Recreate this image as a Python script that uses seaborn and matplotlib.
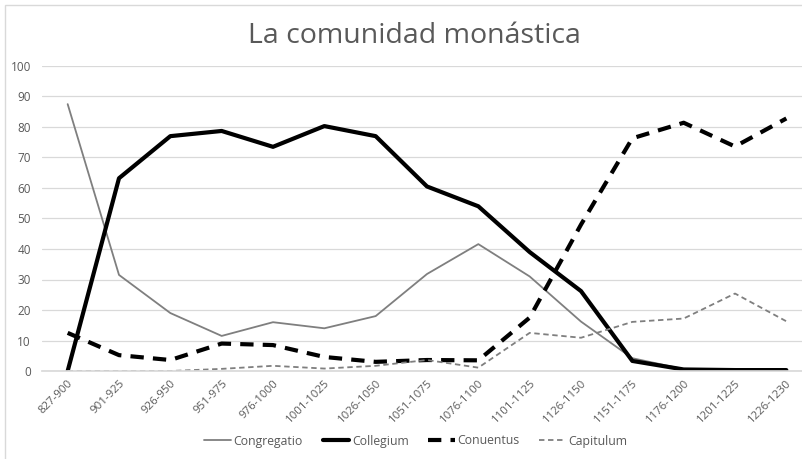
import matplotlib
matplotlib.use("Agg")
import matplotlib.pyplot as plt
import seaborn as sns
import pandas as pd
from matplotlib.lines import Line2D
from matplotlib.patches import Rectangle

periods = ["827-900", "901-925", "926-950", "951-975", "976-1000", "1001-1025",
           "1026-1050", "1051-1075", "1076-1100", "1101-1125", "1126-1150",
           "1151-1175", "1176-1200", "1201-1225", "1226-1230"]
congregatio = [87.5, 31.5, 19.0, 11.5, 16.0, 14.0, 18.0, 31.8, 41.6, 31.0, 16.2, 4.2, 0.6, 0.3, 0.3]
collegium = [0.0, 63.2, 77.0, 78.7, 73.5, 80.3, 77.0, 60.5, 54.0, 39.0, 26.2, 3.3, 0.5, 0.3, 0.3]
conuentus = [12.5, 5.2, 3.6, 9.0, 8.5, 4.6, 3.0, 3.6, 3.5, 17.5, 48.0, 76.3, 81.4, 73.6, 82.8]
capitulum = [0.0, 0.0, 0.0, 0.7, 1.7, 0.8, 1.7, 3.6, 1.1, 12.5, 10.9, 16.1, 17.2, 25.4, 16.3]
y_ticks = list(range(0, 101, 10))

series = {"Congregatio": congregatio, "Collegium": collegium,
          "Conuentus": conuentus, "Capitulum": capitulum}
df = pd.DataFrame({"Periodo": periods * 4,
                   "Serie": sum([[k] * len(periods) for k in series], []),
                   "Valor": sum([list(v) for v in series.values()], [])})

sns.set_theme(style="white")
plt.rcParams['font.family'] = ['Open Sans', 'DejaVu Sans']

fig = plt.figure(figsize=(8.03, 4.59), dpi=100)
ax = fig.add_axes([42 / 803, 1 - 371 / 459, (812 - 42) / 803, (371 - 66) / 459])

styles = {
    "Congregatio": dict(color="#7f7f7f", linewidth=1.3, linestyle="-"),
    "Collegium": dict(color="black", linewidth=3.0, linestyle="-"),
    "Conuentus": dict(color="black", linewidth=3.0, linestyle=(0, (3.2, 2.2))),
    "Capitulum": dict(color="#7f7f7f", linewidth=1.3, linestyle=(0, (3, 2))),
}
for name, st in styles.items():
    sub = df[df["Serie"] == name]
    sns.lineplot(data=sub, x="Periodo", y="Valor", ax=ax, sort=False,
                 color=st["color"], linewidth=st["linewidth"],
                 linestyle=st["linestyle"], legend=False)

ax.set_xlim(-0.5, len(periods) - 0.5)
ax.set_ylim(0, 100)
ax.set_yticks(y_ticks)
ax.yaxis.grid(True, color="#d9d9d9", linewidth=0.9)
ax.set_axisbelow(True)
for s in ["left", "right", "top"]:
    ax.spines[s].set_visible(False)
ax.spines["bottom"].set_color("#d9d9d9")
ax.set_xlabel("")
ax.set_ylabel("")
ax.tick_params(axis="y", colors="#595959", labelsize=8.5, length=0, pad=8)
ax.tick_params(axis="x", colors="#595959", labelsize=8.2, length=0, pad=5)
for lab in ax.get_xticklabels():
    lab.set_rotation(45)
    lab.set_ha("right")
    lab.set_rotation_mode("anchor")

fig.text(414 / 803, 1 - 36 / 459, "La comunidad monástica", ha="center", va="center",
         fontsize=20.5, color="#595959")

handles = [Line2D([0], [0], **styles[n]) for n in series]
fig.legend(handles, list(series.keys()), loc="center", bbox_to_anchor=(416 / 803, 1 - 441 / 459),
           ncol=4, frameon=False, fontsize=8.8, labelcolor="#595959", handlelength=2.2,
           handletextpad=0.2, columnspacing=1.6)

fig.add_artist(Rectangle((5 / 803, -0.1), 1.2, (459 - 5) / 459 + 0.1, transform=fig.transFigure,
                         fill=False, edgecolor="#d9d9d9", linewidth=1.0))

fig.savefig("out.png", dpi=100)
